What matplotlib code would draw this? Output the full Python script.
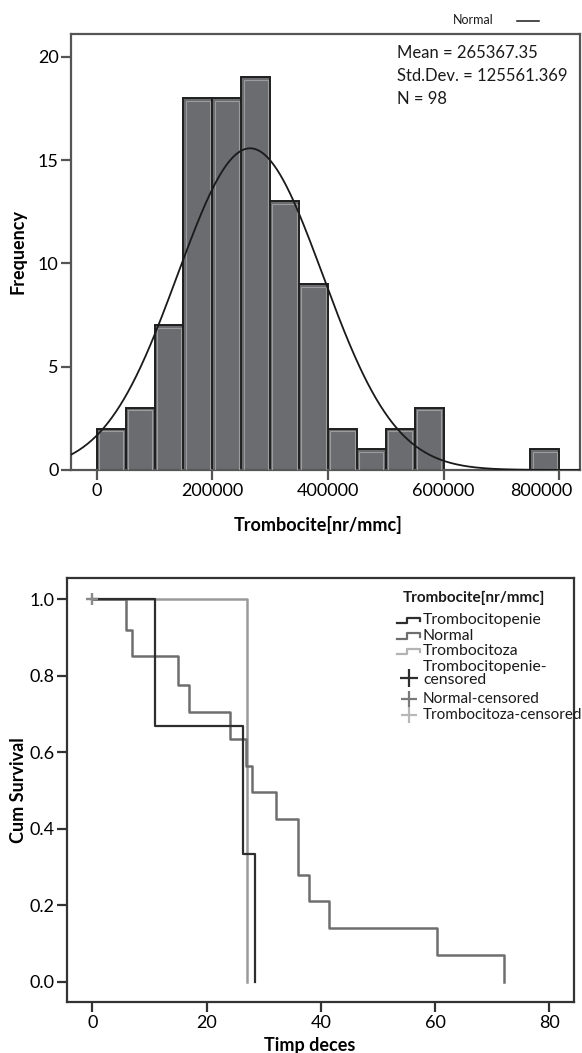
"""Platelet count histogram with normal fit, and Kaplan-Meier curves by platelet group."""
import matplotlib
matplotlib.use("Agg")
import matplotlib.pyplot as plt
import matplotlib.transforms as mtransforms
import numpy as np
from matplotlib.lines import Line2D

plt.rcParams["font.family"] = ["Lato", "DejaVu Sans"]

# histogram data (bin width 50000)
bin_edges = np.arange(0, 850000, 50000)
counts = [2, 3, 7, 18, 18, 19, 13, 9, 2, 1, 2, 3, 0, 0, 0, 1]
mean_val = 265367.35
std_val = 125561.369
n_val = 98

# survival data
topenie_t = [0, 11, 26.3, 28.4]
topenie_s = [1.0, 0.667, 0.333, 0.0]
normal_t = [0, 5.9, 6.9, 15, 17, 24.1, 26.9, 27.9, 32.1, 36, 38, 41.4, 60.4, 72]
normal_s = [1.0, 0.92, 0.85, 0.775, 0.705, 0.635, 0.565, 0.495, 0.425, 0.28,
            0.21, 0.14, 0.07, 0.0]
toza_t = [0, 27.1]
toza_s = [1.0, 0.0]
censor_t = [0, 0]
censor_s = [1.0, 1.0]

DARK = "#2e2e2e"
MID = "#6e6e6e"
LIGHT = "#9a9a9a"

W, H = 582, 1053
fig = plt.figure(figsize=(W / 100, H / 100), dpi=100)


def px_axes(left, top, right, bottom):
    return fig.add_axes([left / W, 1 - bottom / H, (right - left) / W, (bottom - top) / H])


def style_axes(ax, color):
    for sp in ax.spines.values():
        sp.set_linewidth(1.6)
        sp.set_color(color)
    ax.tick_params(direction="out", length=7, width=1.6, color=color,
                   labelsize=13, pad=2, top=False, right=False)


# ---------- histogram ----------
ax1 = px_axes(71, 34, 580, 470)
style_axes(ax1, "#555555")
counts = np.array(counts)
keep = counts > 0
bw = bin_edges[1] - bin_edges[0]
ax1.bar(bin_edges[:-1][keep], counts[keep], width=bw, align="edge",
        color="#6b6c70", edgecolor="#1e1e1e", linewidth=1.4, zorder=2)
# light inner rim, SPSS style
ax1.bar(bin_edges[:-1][keep] + bw * 0.08, counts[keep] - 0.12, width=bw * 0.84,
        bottom=0.0, align="edge", color="none", edgecolor="#9c9c9c",
        linewidth=0.8, zorder=3)

xmin, xmax = -44500, 836000
xs = np.linspace(xmin, xmax, 500)
pdf = n_val * bw / (std_val * np.sqrt(2 * np.pi)) * np.exp(-0.5 * ((xs - mean_val) / std_val) ** 2)
ax1.plot(xs, pdf, color="#1a1a1a", linewidth=1.3, zorder=4)

ax1.set_xlim(xmin, xmax)
ax1.set_ylim(0, 21.1)
ax1.set_xticks([0, 200000, 400000, 600000, 800000])
ax1.set_yticks([0, 5, 10, 15, 20])
ax1.set_xlabel("Trombocite[nr/mmc]", fontsize=13, fontweight="bold")
ax1.xaxis.set_label_coords(0.486, -0.105)
ax1.set_ylabel("Frequency", fontsize=13, fontweight="bold", labelpad=8)

# last x label sits left of its tick so it stays inside the figure
last = ax1.get_xticklabels()[-1]
last.set_transform(last.get_transform()
                   + mtransforms.ScaledTranslation(-0.18, 0, fig.dpi_scale_trans))

stats = [f"Mean = {mean_val:.2f}", f"Std.Dev. = {std_val:.3f}", f"N = {n_val}"]
for i, line in enumerate(stats):
    ax1.text(0.640, 0.956 - i * 0.052, line, transform=ax1.transAxes,
             fontsize=12, va="center", ha="left", color="#1a1a1a")

fig.text(453 / W, 1 - 20 / H, "Normal", fontsize=9, va="center", ha="left", color="#1a1a1a")
fig.add_artist(Line2D([517 / W, 539 / W], [1 - 20.5 / H, 1 - 20.5 / H],
                      color="#1a1a1a", linewidth=1.1))

# ---------- Kaplan-Meier ----------
ax2 = px_axes(67, 578, 574, 1002)
style_axes(ax2, "#333333")
ax2.step(toza_t, toza_s, where="post", color=LIGHT, linewidth=1.8, zorder=2)
ax2.step(normal_t, normal_s, where="post", color=MID, linewidth=1.8, zorder=3)
ax2.step(topenie_t, topenie_s, where="post", color=DARK, linewidth=1.6, zorder=4)
ax2.plot(censor_t, censor_s, ls="none", marker="+", markersize=8,
         markeredgewidth=1.6, color="#8a8a8a", zorder=5)

ax2.set_xlim(-4.43, 84.3)
ax2.set_ylim(-0.053, 1.055)
ax2.set_xticks([0, 20, 40, 60, 80])
ax2.set_yticks([0.0, 0.2, 0.4, 0.6, 0.8, 1.0])
ax2.yaxis.set_major_formatter(matplotlib.ticker.FormatStrFormatter("%.1f"))
ax2.set_xlabel("Timp deces", fontsize=13, fontweight="bold")
ax2.xaxis.set_label_coords(0.478, -0.083)
ax2.set_ylabel("Cum Survival", fontsize=13, fontweight="bold", labelpad=2)

# legend drawn by hand to keep the tight SPSS spacing
leg_title = "Trombocite[nr/mmc]"
leg_labels = ["Trombocitopenie", "Normal", "Trombocitoza",
              "Trombocitopenie-\ncensored", "Normal-censored", "Trombocitoza-censored"]
leg_colors = [DARK, MID, "#b4b4b4", DARK, "#7a7a7a", "#b8b8b8"]
leg_rows = [620, 635.7, 651, 673.5, 699, 715]

to_ax = ax2.transAxes.inverted()


def px2ax(x, y):
    return to_ax.transform(fig.transFigure.transform((x / W, 1 - y / H)))


tx, ty = px2ax(403, 598)
ax2.text(tx, ty, leg_title, transform=ax2.transAxes, fontsize=11,
         fontweight="bold", va="center", ha="left", color="#1a1a1a")
step_x = np.array([0, 0.42, 0.42, 1.0, 1.0])
step_y = np.array([3.0, 3.0, -2.5, -2.5, 1.0])
for i, (lab, col, row) in enumerate(zip(leg_labels, leg_colors, leg_rows)):
    lx, ly = px2ax(423, row)
    ax2.text(lx, ly, lab, transform=ax2.transAxes, fontsize=11.3 if i < 4 else 11,
             va="center", ha="left", color="#1a1a1a", linespacing=0.95)
    if i < 3:
        pts = np.array([px2ax(397 + 23 * sx, row + sy) for sx, sy in zip(step_x, step_y)])
        ax2.add_line(Line2D(pts[:, 0], pts[:, 1], transform=ax2.transAxes,
                            color=col, linewidth=1.6, clip_on=False))
    else:
        mx, my = px2ax(409, row + 4 if i == 3 else row)
        ax2.add_line(Line2D([mx], [my], transform=ax2.transAxes, marker="+",
                            markersize=13 if i == 3 else 11, markeredgewidth=1.6,
                            color=col, clip_on=False))

fig.savefig("out.png", dpi=100)
